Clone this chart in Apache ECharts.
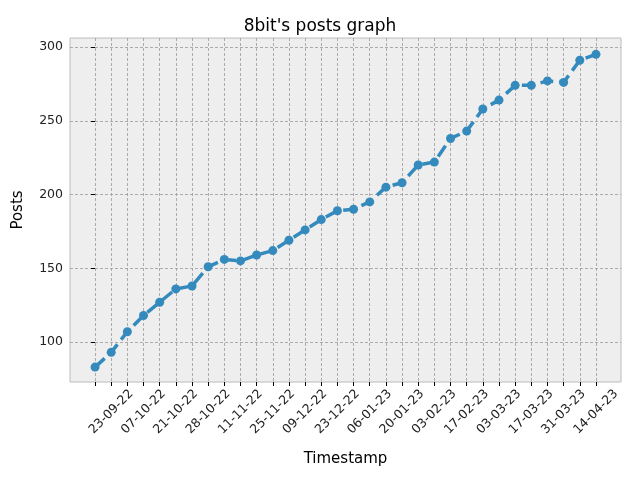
<!DOCTYPE html>
<html>
<head>
<meta charset="utf-8">
<script src="https://cdn.jsdelivr.net/npm/echarts@6/dist/echarts.min.js"></script>
<style>
  html, body { margin: 0; padding: 0; background: #fff; }
  #chart { width: 640px; height: 480px; }
</style>
</head>
<body>
<div id="chart"></div>
<script>
// dates for each point; only every other one is labelled on the chart
const dates = ['16-09-22', '23-09-22', '30-09-22', '07-10-22', '14-10-22', '21-10-22', '24-10-22', '28-10-22',
    '04-11-22', '11-11-22', '18-11-22', '25-11-22', '02-12-22', '09-12-22', '16-12-22', '23-12-22',
    '30-12-22', '06-01-23', '13-01-23', '20-01-23', '27-01-23', '03-02-23', '10-02-23', '17-02-23',
    '24-02-23', '03-03-23', '10-03-23', '17-03-23', '24-03-23', '31-03-23', '07-04-23', '14-04-23']
const posts = [83, 93, 107, 118, 127, 136, 138, 151, 156, 155, 159, 162, 169, 176, 183, 189,
    190, 195, 205, 208, 220, 222, 238, 243, 258, 264, 274, 274, 277, 276, 291, 295]
const yTicks = [100, 150, 200, 250, 300]

const idx = dates.map((d, i) => i)
const labelIdx = idx.filter(i => i % 2 === 1)
const font = 'DejaVu Sans'

let option = {
    backgroundColor: '#ffffff',
    title: {
        text: "8bit's posts graph",
        left: 'center',
        top: 13,
        textStyle: { fontFamily: font, fontSize: 17, fontWeight: 'normal', color: '#000' }
    },
    grid: { left: 70, right: 19, top: 38, bottom: 98, show: true, backgroundColor: '#eeeeee', borderColor: '#bcbcbc', borderWidth: 1 },
    xAxis: {
        type: 'value',
        min: -1.55,
        max: 32.55,
        name: 'Timestamp',
        nameLocation: 'middle',
        nameGap: 70,
        nameTextStyle: { fontFamily: font, fontSize: 15, color: '#000' },
        axisLine: { show: false },
        axisTick: { show: true, customValues: idx, length: 4, lineStyle: { color: '#000' } },
        axisLabel: {
            customValues: labelIdx,
            rotate: 45,
            align: 'center',
            verticalAlign: 'middle',
            fontFamily: font,
            fontSize: 12.5,
            color: '#222',
            margin: 30,
            formatter: v => dates[Math.round(v)]
        },
        splitLine: { show: true, lineStyle: { color: '#999', type: [3, 2], width: 0.8 } }
    },
    yAxis: {
        type: 'value',
        min: 72.9,
        max: 306.1,
        name: 'Posts',
        nameLocation: 'middle',
        nameGap: 44,
        nameTextStyle: { fontFamily: font, fontSize: 15, color: '#000' },
        axisLine: { show: false },
        axisTick: { show: true, customValues: yTicks, length: 4, lineStyle: { color: '#000' } },
        axisLabel: { customValues: yTicks, fontFamily: font, fontSize: 12.5, color: '#222', margin: 7 },
        splitLine: { show: true, lineStyle: { color: '#999', type: [3, 2], width: 0.8 } }
    },
    series: [{
        type: 'line',
        data: posts.map((p, i) => [i, p]),
        symbol: 'circle',
        symbolSize: 9,
        itemStyle: { color: '#348ABD' },
        lineStyle: { color: '#348ABD', width: 3.5, type: [13, 6] },
        animation: false
    }]
}

let chart = echarts.init(document.getElementById('chart'))
chart.setOption(option)
</script>
</body>
</html>
